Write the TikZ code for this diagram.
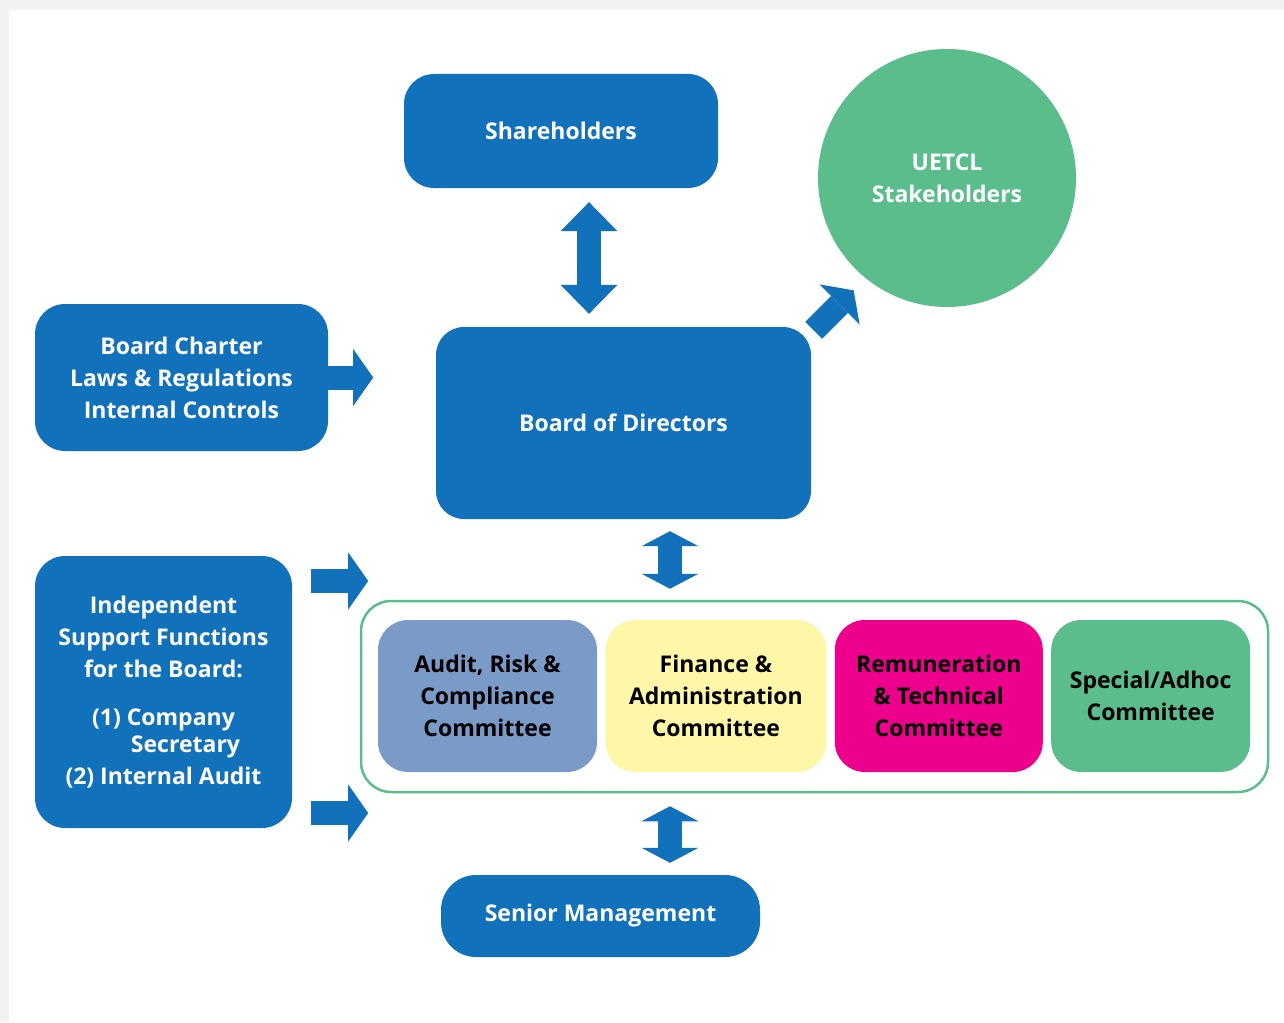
\documentclass[tikz,border=0pt]{standalone}
\usepackage{fontspec}
\setsansfont{Open Sans}
\usetikzlibrary{arrows.meta, positioning, calc}

\definecolor{uetblue}{HTML}{1271BB}
\definecolor{uetgreen}{HTML}{5BBD8C}
\definecolor{auditblue}{HTML}{7A9AC8}
\definecolor{finyellow}{HTML}{FFF7A8}
\definecolor{remmagenta}{HTML}{EC008C}
\definecolor{paper}{HTML}{F2F2F2}

\tikzset{
  box/.style={rectangle, rounded corners=30pt, inner sep=0pt, align=center,
    font=\sffamily\bfseries\fontsize{23}{32}\selectfont},
  bluebox/.style={box, fill=uetblue, text=white},
  cttee/.style={box, minimum height=152pt, text=black},
  fat/.style={draw=uetblue, line width=24pt},
  tipA/.style={-{Triangle[width=57pt,length=20pt,line width=0pt]}},
  tipB/.style={{Triangle[width=57pt,length=#1,line width=0pt]}-{Triangle[width=57pt,length=#1,line width=0pt]}},
}

\begin{document}
\begin{tikzpicture}[x=1pt, y=-1pt]
  % page
  \fill[paper] (0,0) rectangle (1284,1022);
  \fill[white] (9,10) rectangle (1284,1022);
  \useasboundingbox (0,0) rectangle (1284,1022);

  % top row
  \node[bluebox, minimum width=314pt, minimum height=114pt] (sh) at (561,131) {Shareholders};
  \node[box, circle, fill=uetgreen, text=white, minimum size=258pt] (stake) at (947,178) {UETCL\\Stakeholders};

  % board and its inputs
  \node[bluebox, minimum width=293pt, minimum height=147pt] (charter) at (181.5,377.5)
    {Board Charter\\Laws \& Regulations\\Internal Controls};
  \node[bluebox, rounded corners=28pt, minimum width=375pt, minimum height=192pt] (bod) at (623.5,423) {Board of Directors};
  \node[bluebox, minimum width=257pt, minimum height=272pt] (isf) at (163.5,692)
    {Independent\\Support Functions\\for the Board:\\[16pt]
     (1) Company\\[-5pt]\hspace*{44pt}Secretary\\(2) Internal Audit};

  % committees
  \node[draw=uetgreen, line width=2.5pt, rounded corners=30pt, minimum width=907pt, minimum height=191pt] (frame) at (814.5,696.5) {};
  \node[cttee, fill=auditblue, minimum width=219pt] (audit) at (487.5,696) {Audit, Risk \&\\Compliance\\Committee};
  \node[cttee, fill=finyellow, minimum width=221pt, right=8pt of audit] (fin) {Finance \&\\Administration\\Committee};
  \node[cttee, fill=remmagenta, minimum width=208pt, right=8pt of fin] (rem) {Remuneration\\\& Technical\\Committee};
  \node[cttee, fill=uetgreen, minimum width=199pt, right=8pt of rem] (spec) {Special/Adhoc\\Committee};

  \node[bluebox, rounded corners=35pt, minimum width=319pt, minimum height=82pt] (senior) at (600.5,916) {Senior Management};

  % arrows
  \draw[fat, tipB=29pt] ([shift={(28pt,-14pt)}]sh.south) -- ([shift={(-34.5pt,13pt)}]bod.north);
  \draw[fat, tipB=15pt] ([shift={(46.5pt,-12pt)}]bod.south) -- ([shift={(-144.5pt,11pt)}]frame.north);
  \draw[fat, tipB=15pt] ([shift={(-144.5pt,-13pt)}]frame.south) -- ([shift={(69.5pt,12pt)}]senior.north);
  \draw[fat, tipA] (charter.east) -- ([xshift=45pt]charter.east);
  \draw[fat, tipA] ([shift={(19pt,111pt)}]isf.east) -- ([shift={(76pt,111pt)}]isf.east);
  \draw[fat, tipA] ([shift={(19pt,-121pt)}]isf.east) -- ([shift={(76pt,-121pt)}]isf.east);
  \draw[fat, tipA] ([shift={(2.5pt,-3.5pt)}]bod.north east) -- ([shift={(-2pt,-21pt)}]stake.south west);
\end{tikzpicture}
\end{document}
